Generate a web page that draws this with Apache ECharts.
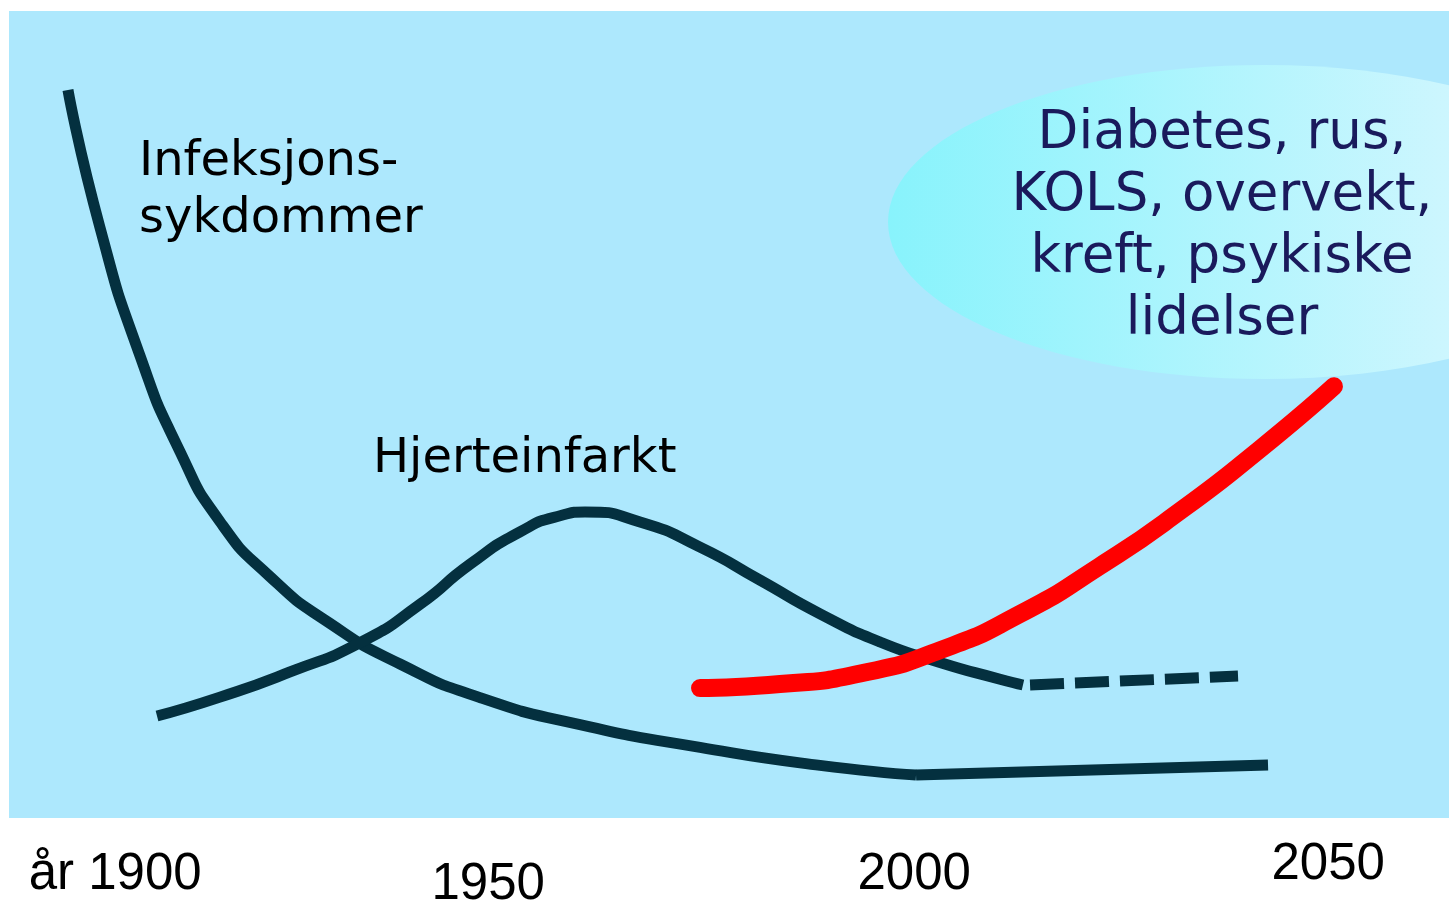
<!DOCTYPE html>
<html>
<head>
<meta charset="utf-8">
<title>Sykdomsbilde 1900-2050</title>
<script src="https://cdn.jsdelivr.net/npm/echarts@6/dist/echarts.min.js"></script>
<style>
  html, body { margin: 0; padding: 0; background: #fff; }
  #chart { width: 1449px; height: 903px; }
</style>
</head>
<body>
<div id="chart"></div>
<script>
// år -> relativ forekomst (0-100), lest av bildet
var yearTicks = [1900, 1950, 2000, 2050];

var infeksjon = [
  [1900.92, 90.21], [1904.68, 73.16], [1909.37, 57.30], [1914.07, 45.40], [1918.76, 36.73],
  [1924.63, 29.91], [1931.67, 24.11], [1939.89, 19.08], [1949.28, 14.92], [1961.01, 11.57],
  [1975.10, 8.75], [1989.18, 6.52], [2000.45, 5.33]
];
var infeksjonFlat = [[2000.45, 5.33], [2041.76, 6.57]];

var hjerte = [
  [1911.37, 12.64], [1918.76, 14.98], [1926.98, 18.10], [1935.43, 21.85], [1942.24, 26.48],
  [1948.10, 31.44], [1953.97, 35.46], [1958.67, 37.45], [1961.60, 37.91], [1968.06, 36.68],
  [1975.10, 33.56], [1982.14, 29.47], [1989.18, 25.30], [1996.22, 21.81], [2003.26, 19.28],
  [2010.31, 17.20], [2013.00, 16.48]
];
var hjerteFramskrevet = [[2013.83, 16.48], [2038.24, 17.60]];

var livsstil = [
  [1975.1, 16.1], [1984.5, 16.6], [1993.9, 17.9], [2003.3, 20.8], [2012.7, 25.3],
  [2022.0, 31.2], [2031.4, 38.0], [2040.8, 45.7], [2049.5, 53.5]
];

var dark = '#04303f';

var chart = echarts.init(document.getElementById('chart'));

chart.setOption({
  animation: false,
  grid: {
    left: 9,
    right: 0,
    top: 11,
    bottom: 85,
    containLabel: false,
    outerBoundsMode: 'none',
    show: true,
    backgroundColor: '#ade8fd',
    borderWidth: 0
  },
  xAxis: {
    type: 'value',
    min: 1894,
    max: 2063,
    axisLine: { show: false },
    axisTick: { show: false },
    splitLine: { show: false },
    axisLabel: {
      customValues: yearTicks,
      margin: 10,
      fontFamily: 'Liberation Sans, Arial',
      fontSize: 51,
      color: '#000',
      formatter: function (v) {
        if (v === 1900) return '{a|år 1900}';
        if (v === 1950) return '{b|1950}';
        if (v === 2000) return '{c|2000}';
        return '{d|2050}';
      },
      rich: {
        a: { fontSize: 51, lineHeight: 52, padding: [41, 0, 0, 110] },
        b: { fontSize: 51, lineHeight: 52, padding: [61, 0, 0, 4] },
        c: { fontSize: 51, lineHeight: 52, padding: [41, 0, 0, 4] },
        d: { fontSize: 51, lineHeight: 52, padding: [21, 20, 0, 0] }
      }
    }
  },
  yAxis: {
    type: 'value',
    min: 0,
    max: 100,
    show: false
  },
  graphic: [
    {
      type: 'ellipse',
      z: 1,
      shape: { cx: 1264, cy: 222, rx: 376, ry: 157 },
      style: {
        fill: {
          type: 'linear', x: 0, y: 0, x2: 1, y2: 0,
          colorStops: [
            { offset: 0, color: '#88f3fc' },
            { offset: 0.75, color: '#cdf6fe' },
            { offset: 1, color: '#e2f9fe' }
          ]
        }
      }
    },
    {
      type: 'text',
      z: 2,
      x: 1222,
      y: 227,
      style: {
        text: 'Diabetes, rus,\nKOLS, overvekt,\nkreft, psykiske\nlidelser',
        font: '53px "DejaVu Sans", Verdana, sans-serif',
        lineHeight: 62,
        fill: '#1a1a5c',
        align: 'center',
        verticalAlign: 'middle'
      }
    },
    {
      type: 'text',
      z: 2,
      x: 139,
      y: 191,
      style: {
        text: 'Infeksjons-\nsykdommer',
        font: '48px "DejaVu Sans", Verdana, sans-serif',
        lineHeight: 57,
        fill: '#000',
        align: 'left',
        verticalAlign: 'middle'
      }
    },
    {
      type: 'text',
      z: 2,
      x: 373,
      y: 460,
      style: {
        text: 'Hjerteinfarkt',
        font: '48px "DejaVu Sans", Verdana, sans-serif',
        fill: '#000',
        align: 'left',
        verticalAlign: 'middle'
      }
    }
  ],
  series: [
    {
      name: 'Infeksjonssykdommer',
      type: 'line',
      data: infeksjon,
      smooth: 0.6,
      symbol: 'none',
      lineStyle: { color: dark, width: 11, cap: 'butt' }
    },
    {
      name: 'Infeksjonssykdommer',
      type: 'line',
      data: infeksjonFlat,
      symbol: 'none',
      lineStyle: { color: dark, width: 11, cap: 'butt' }
    },
    {
      name: 'Hjerteinfarkt',
      type: 'line',
      data: hjerte,
      smooth: 0.6,
      symbol: 'none',
      lineStyle: { color: dark, width: 11, cap: 'butt' }
    },
    {
      name: 'Hjerteinfarkt',
      type: 'line',
      data: hjerteFramskrevet,
      symbol: 'none',
      lineStyle: { color: dark, width: 11, type: [34, 11], cap: 'butt' }
    },
    {
      name: 'Livsstilssykdommer',
      type: 'line',
      data: livsstil,
      smooth: 0.6,
      symbol: 'none',
      z: 3,
      lineStyle: { color: '#ff0000', width: 18, cap: 'round' }
    }
  ]
});
</script>
</body>
</html>
